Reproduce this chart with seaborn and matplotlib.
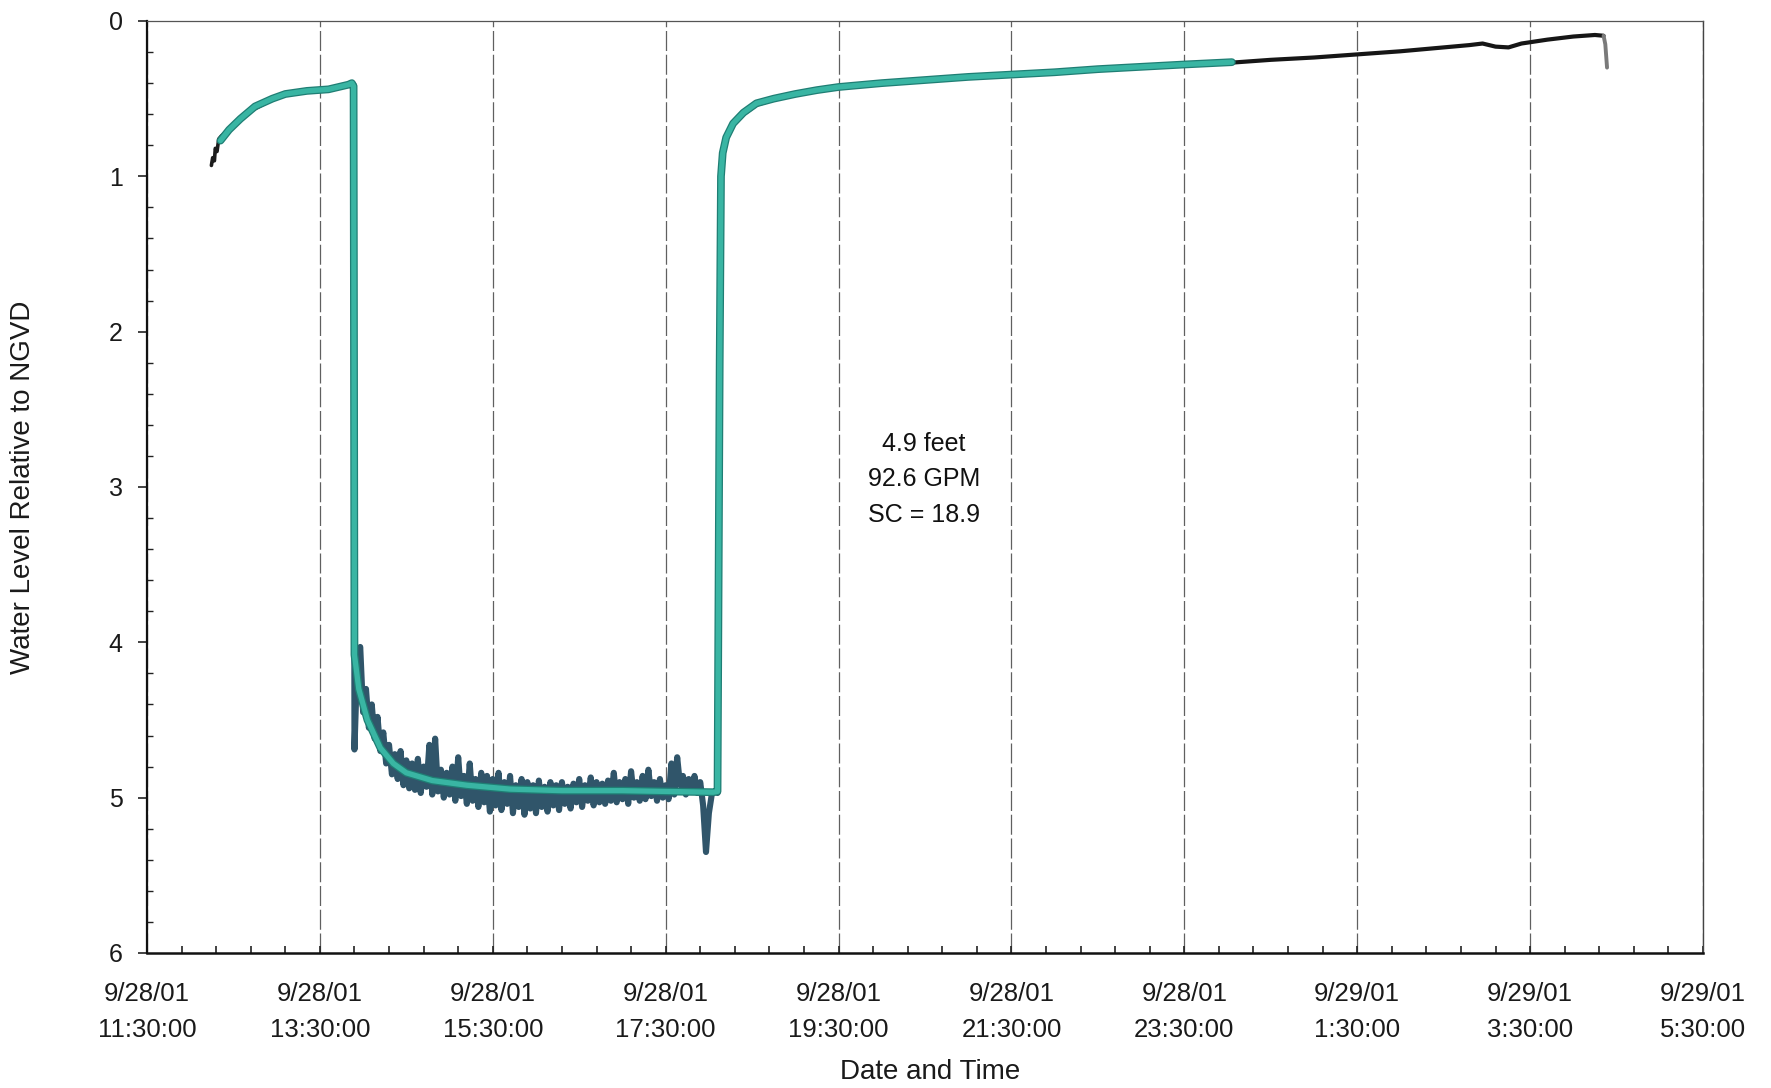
import numpy as np
import pandas as pd
import matplotlib
matplotlib.use("Agg")
import matplotlib.pyplot as plt
import matplotlib.dates as mdates
import matplotlib.ticker as mticker
import matplotlib.patheffects as pe
import seaborn as sns

# ---------------------------------------------------------------- data
start = pd.Timestamp("2001-09-28 11:30")

# Logger record before pumping (hours after 11:30, level in feet)
pre_hours = [0.745, 0.76, 0.78, 0.79, 0.81, 0.83, 0.86, 0.95, 1.05, 1.20,
             1.40, 1.55, 1.70, 1.90, 2.10, 2.30, 2.37, 2.39]
pre_level = [0.93, 0.88, 0.90, 0.82, 0.84, 0.76, 0.74, 0.70, 0.65, 0.58,
             0.52, 0.48, 0.46, 0.45, 0.44, 0.42, 0.40, 0.41]

# Logger record while pumping, 2-minute readings from 13:54
pump_start = "2001-09-28 13:54"
pump_level = [4.69, 4.10, 4.03, 4.45, 4.30, 4.55, 4.40, 4.62, 4.48, 4.70,
              4.58, 4.78, 4.66, 4.85, 4.72, 4.88, 4.70, 4.92, 4.76, 4.94,
              4.78, 4.95, 4.75, 4.97, 4.80, 4.93, 4.66, 4.98, 4.62, 4.96,
              4.82, 5.00, 4.84, 4.98, 4.80, 5.02, 4.74, 4.99, 4.86, 5.04,
              4.78, 5.02, 4.88, 5.06, 4.84, 5.03, 4.86, 5.09, 4.88, 5.05,
              4.84, 5.08, 4.90, 5.04, 4.86, 5.10, 4.92, 5.06, 4.88, 5.11,
              4.90, 5.07, 4.92, 5.10, 4.89, 5.06, 4.93, 5.09, 4.90, 5.05,
              4.92, 5.08, 4.90, 5.04, 4.93, 5.07, 4.91, 5.03, 4.88, 5.06,
              4.92, 5.02, 4.87, 5.05, 4.90, 5.03, 4.91, 5.04, 4.89, 5.02,
              4.84, 5.03, 4.90, 5.01, 4.88, 5.04, 4.83, 5.00, 4.90, 5.02,
              4.86, 5.01, 4.82, 4.99, 4.90, 5.02, 4.88, 5.00, 4.92, 5.01,
              4.78, 4.98, 4.74, 4.92, 4.86, 4.98, 4.88, 4.96, 4.86, 4.97,
              4.90, 5.05, 5.35, 5.10, 4.98, 4.96]

# Logger record during recovery (hours after 11:30)
rec_hours = [6.60, 6.625, 6.64, 6.66, 6.70, 6.78, 6.90, 7.05, 7.25, 7.50,
             7.75, 8.00, 8.50, 9.00, 9.50, 10.0, 10.5, 11.0, 11.5, 12.0,
             12.5, 13.0, 13.5, 14.0, 14.5, 15.0, 15.3, 15.45, 15.6, 15.75,
             15.9, 16.2, 16.5, 16.75, 16.85, 16.87, 16.89]
rec_level = [4.97, 2.20, 1.02, 0.86, 0.76, 0.67, 0.60, 0.54, 0.505, 0.475,
             0.45, 0.43, 0.405, 0.385, 0.365, 0.35, 0.335, 0.315, 0.30, 0.285,
             0.27, 0.25, 0.235, 0.215, 0.195, 0.17, 0.155, 0.145, 0.165, 0.17,
             0.145, 0.12, 0.10, 0.09, 0.095, 0.15, 0.30]

# Smoothed water level curve
fit_hours = [0.85, 0.95, 1.08, 1.25, 1.45, 1.60, 1.85, 2.10, 2.33, 2.37,
             2.39, 2.40, 2.45, 2.55, 2.70, 2.85, 3.00, 3.30, 3.70, 4.20,
             4.80, 5.50, 6.00, 6.55, 6.60, 6.625, 6.64, 6.66, 6.70, 6.78,
             6.90, 7.05, 7.25, 7.50, 7.75, 8.00, 8.50, 9.00, 9.50, 10.0,
             10.5, 11.0, 11.5, 12.0, 12.55]
fit_level = [0.77, 0.70, 0.63, 0.55, 0.50, 0.47, 0.45, 0.44, 0.41, 0.40,
             0.42, 4.08, 4.30, 4.50, 4.68, 4.78, 4.84, 4.89, 4.92, 4.945,
             4.955, 4.955, 4.96, 4.965, 4.96, 2.20, 1.00, 0.85, 0.75, 0.66,
             0.59, 0.53, 0.50, 0.47, 0.445, 0.425, 0.40, 0.38, 0.36, 0.345,
             0.33, 0.31, 0.295, 0.28, 0.265]

tick_times = ["2001-09-28 11:30", "2001-09-28 13:30", "2001-09-28 15:30",
              "2001-09-28 17:30", "2001-09-28 19:30", "2001-09-28 21:30",
              "2001-09-28 23:30", "2001-09-29 01:30", "2001-09-29 03:30",
              "2001-09-29 05:30"]
tick_labels = ["9/28/01\n11:30:00", "9/28/01\n13:30:00", "9/28/01\n15:30:00",
               "9/28/01\n17:30:00", "9/28/01\n19:30:00", "9/28/01\n21:30:00",
               "9/28/01\n23:30:00", "9/29/01\n1:30:00", "9/29/01\n3:30:00",
               "9/29/01\n5:30:00"]
y_ticks = [0, 1, 2, 3, 4, 5, 6]

note_text = "4.9 feet\n92.6 GPM\nSC = 18.9"
note_hours, note_level = 8.99, 2.95

# ---------------------------------------------------------------- frames
def at(hours):
    return start + pd.to_timedelta(np.asarray(hours, dtype=float), unit="h")

pre = pd.DataFrame({"time": at(pre_hours), "level": pre_level})
pump = pd.DataFrame({"time": pd.date_range(pump_start, periods=len(pump_level), freq="2min"),
                     "level": pump_level})
rec = pd.DataFrame({"time": at(rec_hours), "level": rec_level})
fit = pd.DataFrame({"time": at(fit_hours), "level": fit_level})

# join segments so each piece connects to the next
pump_join = pd.concat([pre.tail(1), pump, rec.head(1)], ignore_index=True)
rec_main = rec[rec["time"] <= at([16.85])[0]]
rec_tail = rec[rec["time"] >= at([16.85])[0]]

# ---------------------------------------------------------------- style
sns.set_theme(style="white")
plt.rcParams["font.family"] = ["Liberation Sans", "DejaVu Sans"]
plt.rcParams["axes.unicode_minus"] = False

fig = plt.figure(figsize=(17.71, 10.88), dpi=100)
ax = fig.add_axes([0.0830, 0.1241, 0.8786, 0.8566])
ax.set_facecolor("white")

kw = dict(ax=ax, x="time", y="level", estimator=None, sort=False, legend=False)
sns.lineplot(data=pre, color="#1c1c1c", lw=2.6, **kw)
sns.lineplot(data=pump_join, color="#30556a", lw=4.4, **kw)
sns.lineplot(data=rec_main, color="#161616", lw=3.0, **kw)
sns.lineplot(data=rec_tail, color="#7a7a7a", lw=2.8, **kw)

sns.lineplot(data=fit, color="#39b5a3", lw=3.8,
             path_effects=[pe.Stroke(linewidth=5.6, foreground="#1f7e74"), pe.Normal()],
             **kw)

# ---------------------------------------------------------------- axes
ax.set_xlim(pd.Timestamp(tick_times[0]), pd.Timestamp(tick_times[-1]))
ax.set_ylim(6, 0)

ax.xaxis.set_major_locator(mticker.FixedLocator(mdates.date2num(pd.to_datetime(tick_times))))
ax.xaxis.set_major_formatter(mticker.FixedFormatter(tick_labels))
minor = pd.date_range(tick_times[0], tick_times[-1], freq="24min")
ax.xaxis.set_minor_locator(mticker.FixedLocator(mdates.date2num(minor)))

ax.yaxis.set_major_locator(mticker.FixedLocator(y_ticks))
ax.yaxis.set_major_formatter(mticker.FixedFormatter([str(v) for v in y_ticks]))
ax.yaxis.set_minor_locator(mticker.MultipleLocator(0.2))

ax.tick_params(axis="x", which="both", direction="in", length=5, width=1.2,
               color="#222222", bottom=True, top=False, labelsize=18.5,
               pad=21, labelcolor="#1a1a1a")
ax.tick_params(axis="y", which="major", direction="out", length=6.5, width=1.2,
               color="#222222", left=True, labelsize=18, pad=11,
               labelcolor="#1a1a1a")
ax.tick_params(axis="y", which="minor", direction="in", length=4, width=1.0,
               color="#222222", left=True)

for lab in ax.get_xticklabels():
    lab.set_linespacing(1.65)

ax.grid(axis="x", which="major", color="#444444", lw=0.9,
        linestyle=(0, (16, 3)), alpha=0.85)
ax.grid(axis="y", visible=False)

ax.spines["left"].set_color("#111111")
ax.spines["left"].set_linewidth(1.6)
ax.spines["bottom"].set_color("#111111")
ax.spines["bottom"].set_linewidth(1.8)
ax.spines["top"].set_color("#555555")
ax.spines["top"].set_linewidth(0.9)
ax.spines["right"].set_color("#444444")
ax.spines["right"].set_linewidth(1.0)

ax.set_xlabel("Date and Time", fontsize=20, color="#1a1a1a")
ax.set_ylabel("Water Level Relative to NGVD", fontsize=20, color="#1a1a1a")
ax.xaxis.set_label_coords(0.503, -0.1275)
ax.xaxis.label.set_va("center")
ax.yaxis.set_label_coords(-0.080, 0.50)
ax.yaxis.label.set_va("center")

ax.text(at([note_hours])[0], note_level, note_text, ha="center", va="center",
        fontsize=18, linespacing=1.6, color="#111111")

fig.savefig("out.png", dpi=100, facecolor="white")
